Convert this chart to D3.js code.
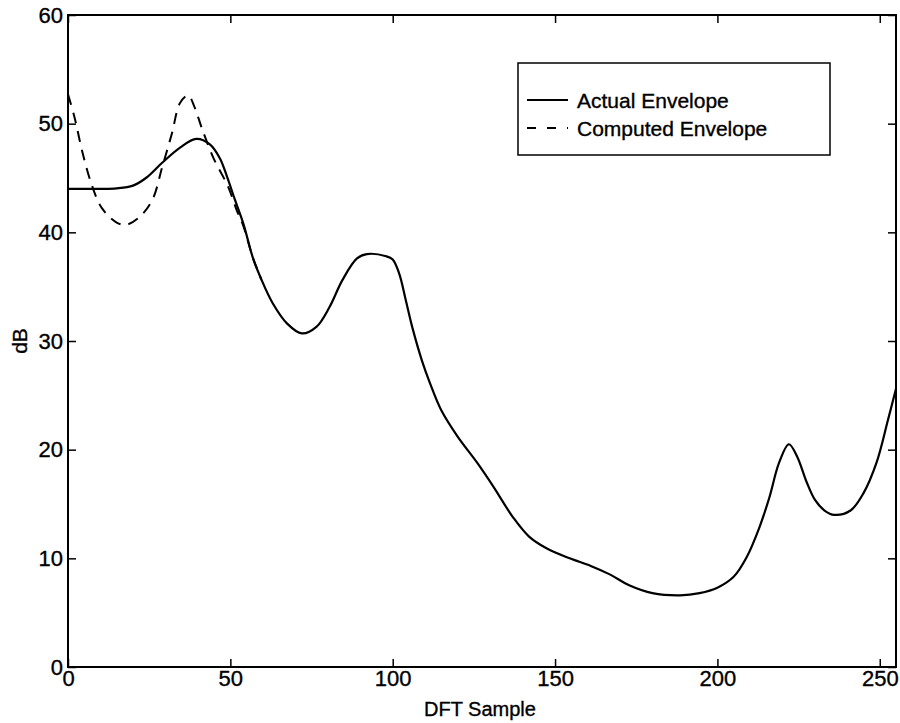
<!DOCTYPE html>
<html>
<head>
    <meta charset="utf-8">
    <title>envelope</title>
    <script type="text/javascript" src="https://cdn.jsdelivr.net/npm/d3@7"></script>
    <style>
      body { margin: 0; background: #fff; }
      text { font-family: Arial, "Liberation Sans", Helvetica, sans-serif; fill: #000; stroke: #000; stroke-width: 0.35px; }
    </style>
</head>
<body>
<script type="text/javascript">

        var width = 900
        var height = 723

        // actual envelope (solid)
        var actualX = [0, 10, 15, 20, 24, 29, 34.5, 39.5, 43.7, 46.8, 49, 51.4, 54, 57, 59.5, 63, 67.5, 72, 76.5, 80.5, 84.5, 89, 92, 98, 100, 102, 104, 106, 109, 111.5, 115, 120, 126, 131, 137, 142, 147.5, 154.5, 161, 167, 173, 180, 188.5, 194.5, 200, 205, 209, 213, 216, 219, 222, 224.5, 227.5, 230, 233, 236, 241, 245, 249, 252.5, 255]
        var actualY = [44, 44, 44.05, 44.3, 45, 46.4, 47.8, 48.6, 48.1, 46.8, 45.1, 43, 40.8, 37.6, 35.7, 33.5, 31.6, 30.7, 31.3, 33.1, 35.6, 37.6, 38, 37.8, 37.5, 36.2, 33.8, 31.3, 28.2, 26.1, 23.6, 21.2, 18.8, 16.6, 13.8, 12, 10.9, 10, 9.3, 8.5, 7.5, 6.8, 6.6, 6.8, 7.3, 8.3, 10.1, 12.9, 15.6, 18.8, 20.5, 19.4, 17.0, 15.4, 14.4, 14, 14.4, 16, 18.8, 22.7, 25.6]

        // computed envelope (dashed), merges with the actual one after ~55
        var computedX = [0, 2, 4.5, 7.5, 10.5, 15, 18, 22, 26, 29, 32, 34.5, 37, 39, 41.2, 44.7, 49.3, 52, 54, 57, 59.5]
        var computedY = [52.7, 50.6, 47.3, 44.2, 42.2, 40.9, 40.7, 41.4, 43, 46, 49.1, 51.9, 52.6, 51.5, 49.6, 46.9, 44.2, 42, 40.6, 37.6, 35.7]

        var xTicks = [0, 50, 100, 150, 200, 250]
        var yTicks = [0, 10, 20, 30, 40, 50, 60]
        var legendLabels = ["Actual Envelope", "Computed Envelope"]

        var margin = {left: 68, right: 4, top: 15, bottom: 56}
        var w = width - margin.left - margin.right
        var h = height - margin.top - margin.bottom

        var svg = d3.select("body").append("svg").attr("width", width).attr("height", height)
        var g = svg.append("g").attr("transform", "translate(" + margin.left + "," + margin.top + ")")

        var x = d3.scaleLinear().domain([0, 255]).range([0, w])
        var y = d3.scaleLinear().domain([0, 60]).range([h, 0])

        function styleAxis(sel, showLabels) {
            sel.select(".domain").remove()
            sel.selectAll(".tick line").attr("stroke", "#000").attr("stroke-width", 1.5)
            sel.selectAll(".tick text").attr("font-size", 22).attr("fill", "#000")
            if (!showLabels) sel.selectAll(".tick text").remove()
        }

        g.append("g").attr("transform", "translate(0," + h + ")")
            .call(d3.axisBottom(x).tickValues(xTicks).tickSizeInner(-8).tickSizeOuter(0).tickPadding(3))
            .call(styleAxis, true)
        g.append("g")
            .call(d3.axisTop(x).tickValues(xTicks).tickSizeInner(-8).tickSizeOuter(0))
            .call(styleAxis, false)
        g.append("g")
            .call(d3.axisLeft(y).tickValues(yTicks).tickSizeInner(-8).tickSizeOuter(0).tickPadding(5))
            .call(styleAxis, true)
        g.append("g").attr("transform", "translate(" + w + ",0)")
            .call(d3.axisRight(y).tickValues(yTicks).tickSizeInner(-8).tickSizeOuter(0))
            .call(styleAxis, false)

        g.append("rect")
            .attr("width", w).attr("height", h)
            .attr("fill", "none").attr("stroke", "#000").attr("stroke-width", 2)

        var line = d3.line()
            .x(function(d) { return x(d[0]) })
            .y(function(d) { return y(d[1]) })
            .curve(d3.curveCatmullRom.alpha(0.5))

        var actual = d3.zip(actualX, actualY)
        var computed = d3.zip(computedX, computedY)

        g.append("path")
            .attr("d", line(computed))
            .attr("fill", "none").attr("stroke", "#000").attr("stroke-width", 2)
            .attr("stroke-dasharray", "11,8")

        g.append("path")
            .attr("d", line(actual))
            .attr("fill", "none").attr("stroke", "#000").attr("stroke-width", 2.2)

        // axis titles
        svg.append("text")
            .attr("x", margin.left + w / 2 - 2).attr("y", 716)
            .attr("text-anchor", "middle").attr("font-size", 20)
            .text("DFT Sample")
        svg.append("text")
            .attr("transform", "translate(27," + (margin.top + h / 2) + ") rotate(-90)")
            .attr("text-anchor", "middle").attr("font-size", 21)
            .text("dB")

        // legend
        var leg = svg.append("g").attr("transform", "translate(518,63)")
        leg.append("rect").attr("width", 312).attr("height", 92)
            .attr("fill", "#fff").attr("stroke", "#000").attr("stroke-width", 1.5)
        var dashes = [null, "9,11"]
        legendLabels.forEach(function(label, i) {
            var ly = 37 + i * 28
            leg.append("line")
                .attr("x1", 9).attr("x2", 50).attr("y1", ly).attr("y2", ly)
                .attr("stroke", "#000").attr("stroke-width", 1.8)
                .attr("stroke-dasharray", dashes[i])
            leg.append("text")
                .attr("x", 59).attr("y", ly).attr("dy", "0.36em")
                .attr("font-size", 21)
                .text(label)
        })

</script>
</body>
</html>
